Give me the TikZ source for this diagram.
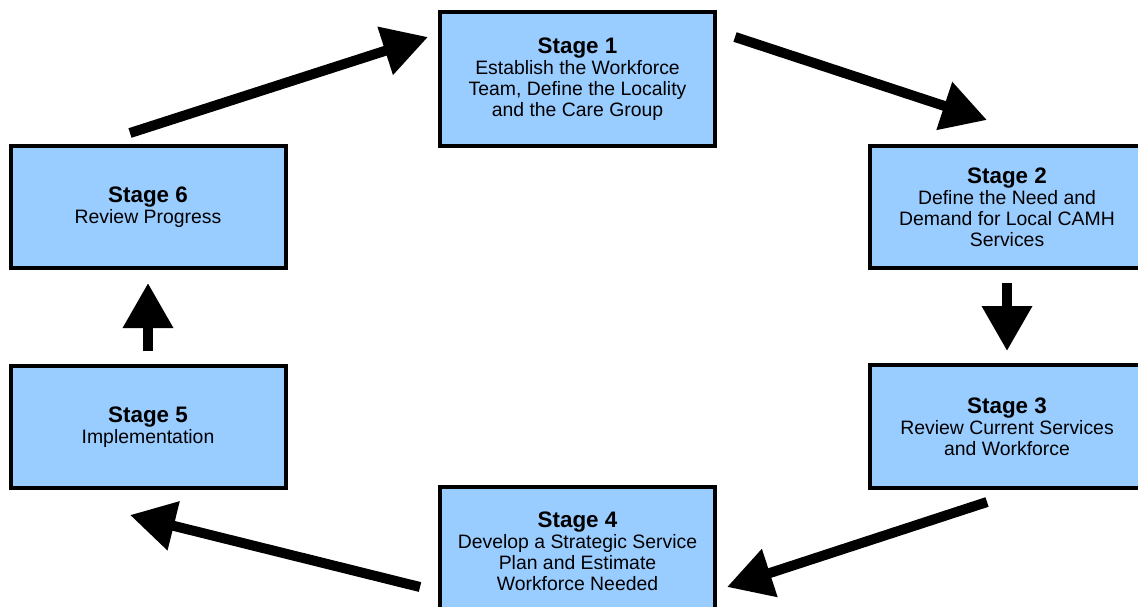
\documentclass[tikz,border=0pt]{standalone}
\usepackage{fontspec}
\setmainfont{Liberation Sans}
\usepackage{xcolor}
\usetikzlibrary{arrows.meta}
\definecolor{stageblue}{HTML}{99CCFF}
\tikzset{
  %% Stage box of the cycle
  stagebox/.style={
    rectangle, draw=black, fill=stageblue,
    minimum width=137.5pt, minimum height=61pt,
    align=center, inner sep=2pt, line width=2pt,
    font=\fontsize{9.7}{10.5}\selectfont
  },
  %% Heavy arrow between stages
  bigarr/.style={-{Triangle[length=22.5pt,width=24pt]},
                 draw=black, line width=5pt},
}
\newcommand{\stagetitle}[1]{{\fontsize{11.2}{10.5}\selectfont\bfseries #1}}

\begin{document}
\begin{tikzpicture}[x=0.5pt, y=-0.5pt]
  \useasboundingbox (0,0) rectangle (1138,606);

  %% ---- Stages ----
  \node[stagebox, minimum height=67pt] (s1) at (577.5,79)
       {\stagetitle{Stage 1}\\Establish the Workforce\\Team, Define the Locality\\and the Care Group};
  \node[stagebox] (s2) at (1007,207)
       {\stagetitle{Stage 2}\\Define the Need and\\Demand for Local CAMH\\Services};
  \node[stagebox, minimum height=61.5pt] (s3) at (1007,426.5)
       {\stagetitle{Stage 3}\\Review Current Services\\and Workforce};
  \node[stagebox, minimum height=64pt] (s4) at (577.5,551)
       {\stagetitle{Stage 4}\\Develop a Strategic Service\\Plan and Estimate\\Workforce Needed};
  \node[stagebox] (s5) at (148,427)
       {\stagetitle{Stage 5}\\Implementation};
  \node[stagebox] (s6) at (148,207)
       {\stagetitle{Stage 6}\\Review Progress};

  %% ---- Cycle arrows ----
  \draw[bigarr] ([shift={(-18,-11)}]s6.north) -- ([shift={(-10,-42)}]s1.west);
  \draw[bigarr] ([shift={(18,-42)}]s1.east) -- ([shift={(-20,-24)}]s2.north);
  \draw[bigarr] ([shift={(0,13)}]s2.south) -- ([shift={(0,-12)}]s3.north);
  \draw[bigarr] ([shift={(-20,12)}]s3.south) -- ([shift={(10,36)}]s4.east);
  \draw[bigarr] ([shift={(-18,36)}]s4.west) -- ([shift={(-18,25)}]s5.south);
  \draw[bigarr] ([shift={(0,-13)}]s5.north) -- ([shift={(0,13)}]s6.south);

\end{tikzpicture}
\end{document}
